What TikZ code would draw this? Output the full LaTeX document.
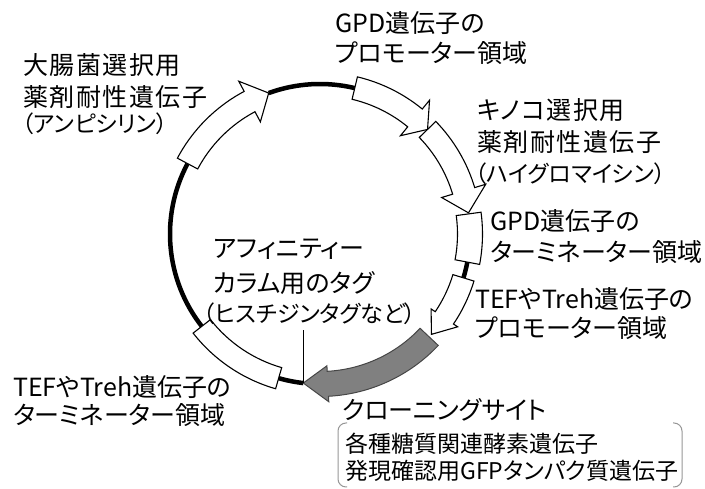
\documentclass[tikz,border=0pt]{standalone}
\usepackage{fontspec}
\newfontfamily\jpk{Noto Sans CJK JP}[CharacterWidth=AlternateProportional, LetterSpace=6]
\newfontfamily\jp{Noto Sans CJK JP}[CharacterWidth=AlternateProportional]
\definecolor{insertgray}{RGB}{128,128,128}
\definecolor{insertedge}{RGB}{70,70,70}
\definecolor{bracketgray}{RGB}{150,150,150}
\newcommand\plasarrow[6]{% style, tail angle, head-base angle, tip angle, half width, head half width
  \pgfmathsetmacro\pRo{150+#5}\pgfmathsetmacro\pRi{150-#5}%
  \pgfmathsetmacro\pHo{150+#6}\pgfmathsetmacro\pHi{150-#6}%
  \path[#1] (#2:\pRo) arc[start angle=#2, end angle=#3, radius=\pRo] -- (#3:\pHo) -- (#4:150)
     -- (#3:\pHi) -- (#3:\pRi) arc[start angle=#3, end angle=#2, radius=\pRi] -- cycle;}
\newcommand\plasbox[4]{% style, start angle, end angle, half width
  \pgfmathsetmacro\pRo{150+#4}\pgfmathsetmacro\pRi{150-#4}%
  \path[#1] (#2:\pRo) arc[start angle=#2, end angle=#3, radius=\pRo] -- (#3:\pRi)
     arc[start angle=#3, end angle=#2, radius=\pRi] -- cycle;}
\tikzset{
  lbl/.style={anchor=west, inner sep=0pt, font=\jp\fontsize{25}{29}\selectfont, text height=22pt, text depth=3pt},
  klbl/.style={anchor=west, inner sep=0pt, font=\jpk\fontsize{25}{29}\selectfont, text height=22pt, text depth=3pt},
  sublbl/.style={anchor=west, inner sep=0pt, font=\jp\fontsize{23}{27}\selectfont, text height=20.2pt, text depth=2.8pt},
  boxlbl/.style={anchor=west, inner sep=0pt, font=\jp\fontsize{23}{27}\selectfont, text height=20.2pt, text depth=2.8pt},
  backbone/.style={line width=4.5pt},
  feat/.style={draw=black, line width=1.1pt, fill=white, line join=miter},
  insert/.style={draw=insertedge, line width=1pt, fill=insertgray, line join=miter},
  pointer/.style={line width=1.4pt},
  bracket/.style={draw=bracketgray, line width=1pt, rounded corners=8pt},
}
\begin{document}
\begin{tikzpicture}[x=1pt, y=1pt]
\useasboundingbox (0,0) rectangle (705,489);
\begin{scope}[shift={(320,255)}]
  % backbone segments
  \draw[backbone] (152:150) arc[start angle=152, end angle=218, radius=150];
  \draw[backbone] (110:150) arc[start angle=110, end angle=76.6, radius=150];
  \draw[backbone] (-10.8:150) arc[start angle=-10.8, end angle=-17, radius=150];
  \draw[backbone] (254:150) arc[start angle=254, end angle=263.6, radius=150];
  % features
  \plasarrow{feat}{152}{118}{110}{11.5}{23}
  \plasarrow{feat}{44.2}{16.7}{8.1}{11.5}{23}
  \plasarrow{feat}{76.6}{50.7}{44.2}{11.5}{23}
  \plasbox{feat}{7.7}{-10.8}{12.5}
  \plasarrow{feat}{-17}{-34}{-42}{11}{16}
  \plasarrow{insert}{-43.3}{-87}{-96.4}{12.5}{18}
  \plasbox{feat}{218}{254}{11}
  \coordinate (tagtip) at (-96.4:150);
\end{scope}
\coordinate (tagtop) at (303.3,159);
\draw[pointer] (tagtip) -- (tagtip |- tagtop);
% labels
\node[klbl] (ampA) at (23,424) {大腸菌選択用};
\node[klbl] (ampB) at (23,392) {薬剤耐性遺伝子};
\node[sublbl] (ampC) at (22,365) {（アンピシリン）};
\node[lbl] (gpdpA) at (335,466) {GPD遺伝子の};
\node[lbl] (gpdpB) at (335,436) {プロモーター領域};
\node[klbl] (hygA) at (477,379) {キノコ選択用};
\node[klbl] (hygB) at (477,347) {薬剤耐性遺伝子};
\node[sublbl] (hygC) at (475,315) {（ハイグロマイシン）};
\node[lbl] (gpdtA) at (490,268) {GPD遺伝子の};
\node[lbl] (gpdtB) at (490,237) {ターミネーター領域};
\node[lbl] (tefpA) at (475,190) {TEFやTreh遺伝子の};
\node[lbl] (tefpB) at (475,161) {プロモーター領域};
\node[lbl] (tagA) at (213,241) {アフィニティー};
\node[lbl] (tagB) at (213,206) {カラム用のタグ};
\node[sublbl] (tagC) at (203,175) {（ヒスチジンタグなど）};
\node[lbl] (teftA) at (13,102) {TEFやTreh遺伝子の};
\node[lbl] (teftB) at (13,74) {ターミネーター領域};
\node[lbl] (clone) at (342,79) {クローニングサイト};
\node[boxlbl] (cloneA) at (345,45) {各種糖質関連酵素遺伝子};
\node[boxlbl] (cloneB) at (345,18) {発現確認用GFPタンパク質遺伝子};
% bracket pair
\coordinate (brTL) at (338,66);
\coordinate (brBR) at (682,2);
\draw[bracket] ([xshift=9pt]brTL) -- (brTL) -- (brTL |- brBR) -- ([xshift=9pt]brTL |- brBR);
\draw[bracket] ([xshift=-9pt]brTL -| brBR) -- (brTL -| brBR) -- (brBR) -- ([xshift=-9pt]brBR);
\end{tikzpicture}
\end{document}
